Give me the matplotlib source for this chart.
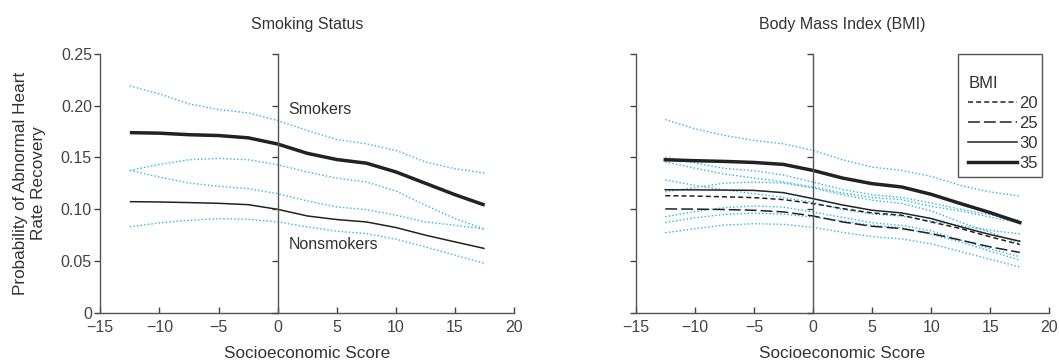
import matplotlib
matplotlib.use("Agg")
import matplotlib.pyplot as plt
from matplotlib.patches import Rectangle
from matplotlib.ticker import FuncFormatter

plt.rcParams["font.family"] = ["Liberation Sans", "DejaVu Sans"]
plt.rcParams["font.size"] = 11.5
plt.rcParams["text.color"] = "#333333"
plt.rcParams["axes.labelcolor"] = "#333333"
plt.rcParams["xtick.color"] = "#444444"
plt.rcParams["ytick.color"] = "#444444"

# Socioeconomic score grid
ses = [-12.5, -10, -7.5, -5, -2.5, 0, 2.5, 5, 7.5, 10, 12.5, 15, 17.5]

# Smoking status: predicted probability and 95% bounds
smokers = [0.1740, 0.1735, 0.1720, 0.1712, 0.1690, 0.1630, 0.1540, 0.1480, 0.1445, 0.1360, 0.1250, 0.1140, 0.1040]
smokers_hi = [0.2192, 0.2114, 0.2018, 0.1963, 0.1931, 0.1857, 0.1761, 0.1674, 0.1632, 0.1568, 0.1456, 0.1391, 0.1350]
smokers_lo = [0.1375, 0.1433, 0.1478, 0.1491, 0.1478, 0.1430, 0.1360, 0.1300, 0.1263, 0.1176, 0.1038, 0.0909, 0.0807]
nonsmokers = [0.1073, 0.1070, 0.1064, 0.1057, 0.1044, 0.0999, 0.0935, 0.0900, 0.0877, 0.0823, 0.0749, 0.0684, 0.0620]
nonsmokers_hi = [0.1375, 0.1311, 0.1253, 0.1221, 0.1199, 0.1150, 0.1080, 0.1022, 0.0996, 0.0942, 0.0877, 0.0845, 0.0807]
nonsmokers_lo = [0.0829, 0.0868, 0.0893, 0.0909, 0.0903, 0.0877, 0.0829, 0.0787, 0.0765, 0.0710, 0.0636, 0.0556, 0.0476]

# Body mass index: predicted probability and 95% bounds
bmi_labels = ["20", "25", "30", "35"]
bmi20 = [0.1131, 0.1127, 0.1120, 0.1112, 0.1093, 0.1054, 0.1006, 0.0964, 0.0942, 0.0877, 0.0813, 0.0733, 0.0659]
bmi20_hi = [0.1456, 0.1397, 0.1340, 0.1302, 0.1263, 0.1214, 0.1156, 0.1114, 0.1092, 0.1027, 0.0983, 0.0923, 0.0869]
bmi20_lo = [0.0871, 0.0917, 0.0950, 0.0962, 0.0953, 0.0924, 0.0886, 0.0844, 0.0822, 0.0757, 0.0683, 0.0593, 0.0509]
bmi25 = [0.1003, 0.1001, 0.0997, 0.0990, 0.0974, 0.0935, 0.0877, 0.0835, 0.0813, 0.0765, 0.0701, 0.0636, 0.0582]
bmi25_hi = [0.1283, 0.1231, 0.1187, 0.1150, 0.1114, 0.1065, 0.0997, 0.0955, 0.0933, 0.0885, 0.0841, 0.0796, 0.0762]
bmi25_lo = [0.0773, 0.0811, 0.0847, 0.0860, 0.0854, 0.0825, 0.0777, 0.0735, 0.0713, 0.0665, 0.0591, 0.0516, 0.0442]
bmi30 = [0.1188, 0.1187, 0.1185, 0.1182, 0.1160, 0.1102, 0.1041, 0.0990, 0.0964, 0.0910, 0.0830, 0.0755, 0.0691]
bmi30_hi = [0.1504, 0.1447, 0.1395, 0.1372, 0.1330, 0.1262, 0.1191, 0.1140, 0.1114, 0.1060, 0.1000, 0.0945, 0.0891]
bmi30_lo = [0.0928, 0.0977, 0.1015, 0.1032, 0.1020, 0.0972, 0.0921, 0.0870, 0.0844, 0.0790, 0.0700, 0.0615, 0.0541]
bmi35 = [0.1478, 0.1469, 0.1462, 0.1452, 0.1433, 0.1375, 0.1301, 0.1247, 0.1215, 0.1144, 0.1054, 0.0967, 0.0871]
bmi35_hi = [0.1867, 0.1777, 0.1713, 0.1665, 0.1632, 0.1568, 0.1478, 0.1407, 0.1375, 0.1317, 0.1230, 0.1166, 0.1128]
bmi35_lo = [0.1168, 0.1209, 0.1252, 0.1262, 0.1253, 0.1205, 0.1141, 0.1087, 0.1055, 0.0984, 0.0874, 0.0777, 0.0671]

xticks = [-15, -10, -5, 0, 5, 10, 15, 20]
yticks = [0, 0.05, 0.10, 0.15, 0.20, 0.25]

CI_COLOR = "#2bb5ea"
LINE_COLOR = "#222222"
SPINE_COLOR = "#555555"
FS = 11.5


def fmt_y(v, _):
    return "0" if v == 0 else f"{v:.2f}"


def style_axes(ax, show_labels):
    ax.set_xlim(-15, 20)
    ax.set_ylim(0, 0.25)
    ax.set_xticks(xticks)
    ax.set_yticks(yticks)
    ax.yaxis.set_major_formatter(FuncFormatter(fmt_y))
    for s in ("top", "right"):
        ax.spines[s].set_visible(False)
    for s in ("left", "bottom"):
        ax.spines[s].set_color(SPINE_COLOR)
        ax.spines[s].set_linewidth(1.0)
    ax.tick_params(axis="x", direction="in", length=4, width=1, pad=5, labelsize=FS)
    ax.tick_params(axis="y", direction="out", length=4, width=1, pad=2, labelsize=FS,
                   labelleft=show_labels)
    ax.set_xlabel("Socioeconomic Score", labelpad=8, fontsize=12.3)

    # vertical reference axis at a socioeconomic score of zero
    z = ax.twinx()
    z.set_ylim(0, 0.25)
    z.set_yticks(yticks)
    for s in ("top", "bottom", "left"):
        z.spines[s].set_visible(False)
    z.spines["right"].set_position(("data", 0))
    z.spines["right"].set_color(SPINE_COLOR)
    z.spines["right"].set_linewidth(1.0)
    z.tick_params(axis="y", direction="in", length=4, width=1, labelright=False)
    return z


def ci(ax, hi, lo):
    for b in (hi, lo):
        ax.plot(ses, b, color=CI_COLOR, lw=1.0, ls=(0, (1, 1.6)))


fig = plt.figure(figsize=(10.59, 3.6), dpi=100)
ax1 = fig.add_axes([0.0947, 0.1314, 0.3909, 0.7186])
ax2 = fig.add_axes([0.6003, 0.1314, 0.3906, 0.7186])

# Smoking status panel
style_axes(ax1, True)
ci(ax1, smokers_hi, smokers_lo)
ci(ax1, nonsmokers_hi, nonsmokers_lo)
ax1.plot(ses, smokers, color=LINE_COLOR, lw=2.5, solid_capstyle="butt")
ax1.plot(ses, nonsmokers, color=LINE_COLOR, lw=1.1, solid_capstyle="butt")
ax1.text(0.9, 0.1965, "Smokers", ha="left", va="center", fontsize=FS)
ax1.text(0.9, 0.0655, "Nonsmokers", ha="left", va="center", fontsize=FS)
ax1.set_title("Smoking Status", fontsize=FS, pad=18)
ax1.set_ylabel("Probability of Abnormal Heart\nRate Recovery", labelpad=11,
               linespacing=1.2, fontsize=12.3)

# Body mass index panel
style_axes(ax2, False)
for hi, lo in ((bmi35_hi, bmi35_lo), (bmi30_hi, bmi30_lo), (bmi20_hi, bmi20_lo), (bmi25_hi, bmi25_lo)):
    ci(ax2, hi, lo)
styles = {
    "20": dict(lw=1.1, ls=(0, (3.3, 2.0))),
    "25": dict(lw=1.1, ls=(0, (7.8, 2.6))),
    "30": dict(lw=1.1, ls="-"),
    "35": dict(lw=2.5, ls="-"),
}
series = {"20": bmi20, "25": bmi25, "30": bmi30, "35": bmi35}
handles = []
for lab in bmi_labels:
    h, = ax2.plot(ses, series[lab], color=LINE_COLOR, label=lab, **styles[lab])
    handles.append(h)
ax2.set_title("Body Mass Index (BMI)", fontsize=FS, pad=18)

# legend entries, with a separate square frame around them
leg = ax2.legend(handles=handles, title="BMI", loc="upper right",
                 bbox_to_anchor=(0.972, 0.916), frameon=False,
                 fontsize=12, title_fontsize=12,
                 handlelength=2.9, handletextpad=0.15, labelspacing=0.3,
                 borderpad=0.0, borderaxespad=0.0, alignment="left")
ax2.add_patch(Rectangle((0.780, 0.5234), 0.2016, 0.4766, transform=ax2.transAxes,
                        fill=False, edgecolor=SPINE_COLOR, lw=1.0, clip_on=False, zorder=5))

fig.savefig("out.png", dpi=100)
